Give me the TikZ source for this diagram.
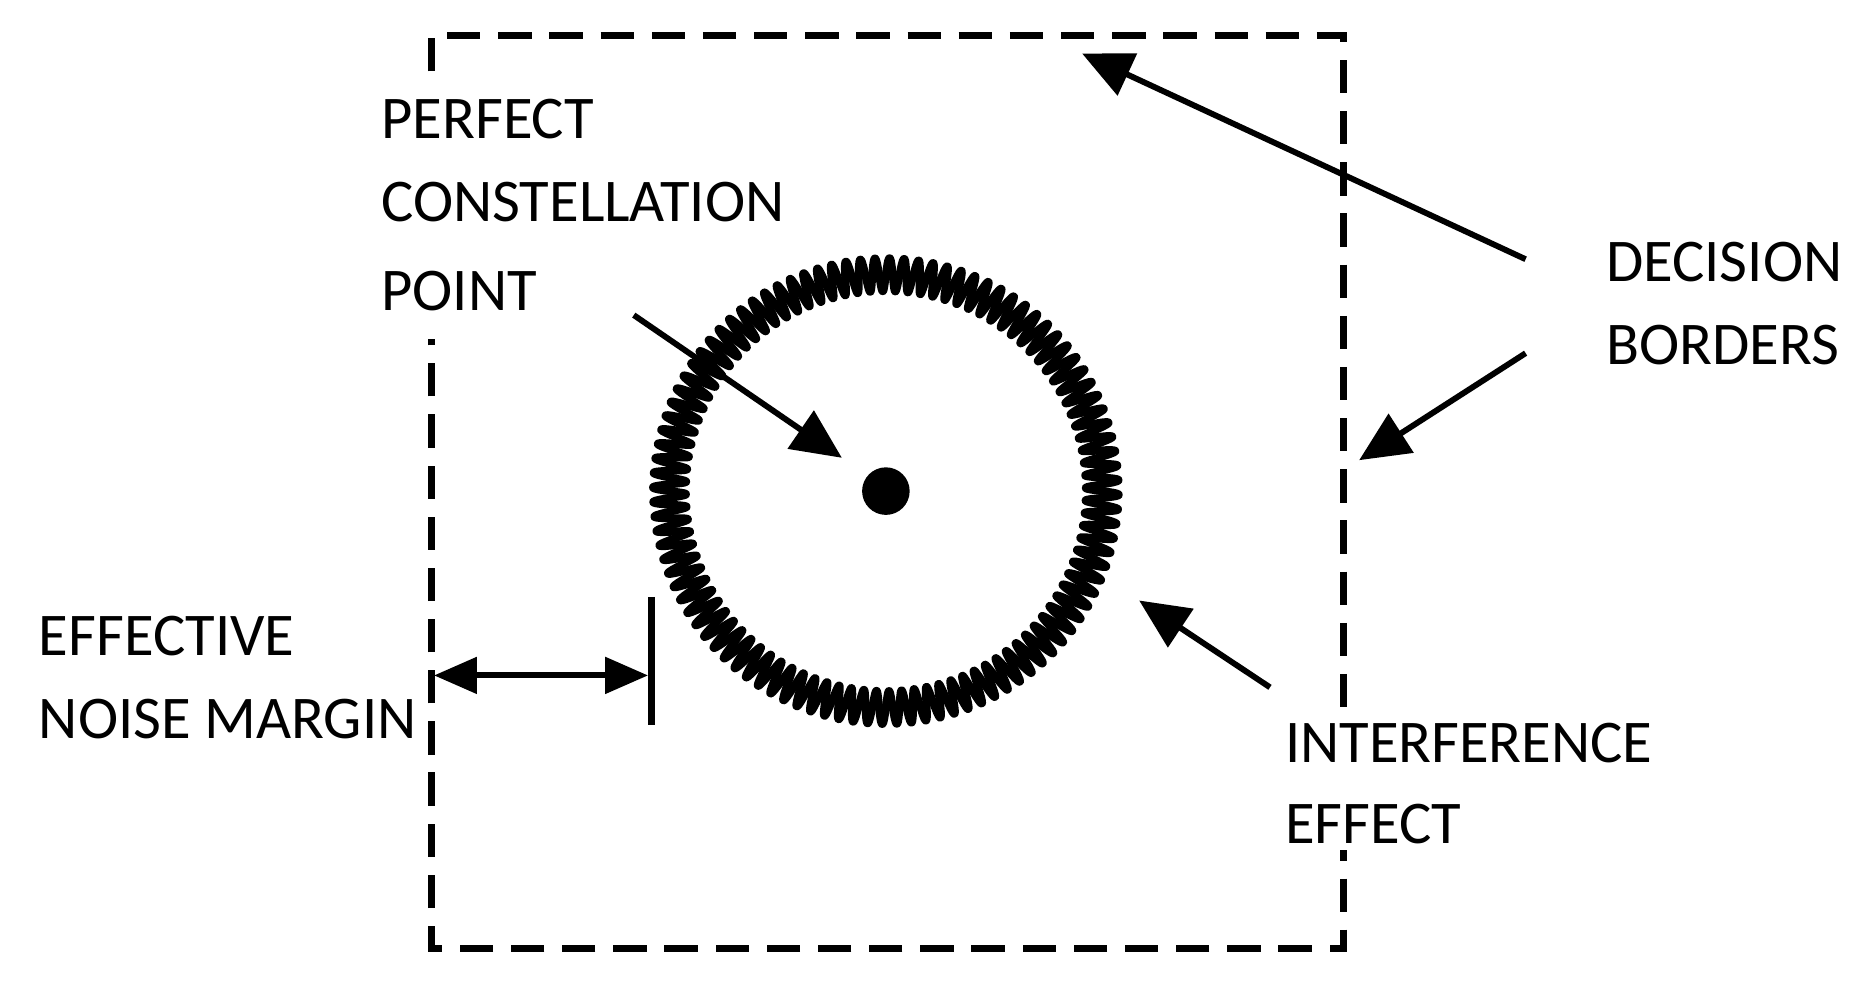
\documentclass[tikz,border=0pt]{standalone}
\usepackage{fontspec}
\setmainfont{Carlito}
\usetikzlibrary{arrows.meta}
\begin{document}
\begin{tikzpicture}[x=0.01cm,y=-0.01cm,
  border/.style={line width=1.7pt,dash pattern=on 0.28cm off 0.15cm},
  arr/.style={line width=1.4pt,-{Triangle[length=0.42cm,width=0.38cm]}},
  lbl/.style={anchor=west,font=\fontsize{14.5}{16}\selectfont,inner sep=0pt}]
\useasboundingbox (0,0) rectangle (1560,833);
\draw[border] (363,60) -- (363,30) -- (1130,30) -- (1130,798) -- (363,798) -- (363,285);
\foreach \k in {0,...,99}
  \draw[line width=1.9pt,line cap=round,line join=round] plot[domain=0:3.6,samples=19,variable=\t]
  ({745+(182+14*sin(100*\t))*cos(3.6*\k+\t)},{413+(182+14*sin(100*\t))*sin(3.6*\k+\t)});
\fill (745,413) circle (20);
\coordinate (p1) at (533,265); \coordinate (p2) at (708,385);
\coordinate (d1) at (1283,218); \coordinate (d2) at (910,45);
\coordinate (d3) at (1283,297); \coordinate (d4) at (1143,387);
\coordinate (i1) at (1068,578); \coordinate (i2) at (958,505);
\coordinate (n1) at (365,568); \coordinate (n2) at (545,568);
\coordinate (b1) at (548,502); \coordinate (b2) at (548,610);
\draw[arr] (p1) -- (p2);
\draw[arr] (d1) -- (d2);
\draw[arr] (d3) -- (d4);
\draw[arr] (i1) -- (i2);
\draw[line width=1.4pt,{Triangle[length=0.36cm,width=0.3cm]}-{Triangle[length=0.36cm,width=0.3cm]}] (n1) -- (n2);
\draw[line width=1.8pt] (b1) -- (b2);
\node[lbl] (t1) at (320,100) {PERFECT};
\node[lbl] (t2) at (320,170) {CONSTELLATION};
\node[lbl] (t3) at (320,245) {POINT};
\node[lbl] (t4) at (1350,220) {DECISION};
\node[lbl] (t5) at (1350,290) {BORDERS};
\node[lbl] (t6) at (32,535) {EFFECTIVE};
\node[lbl] (t7) at (32,605) {NOISE MARGIN};
\fill[white] (1115,595) rectangle (1145,715);
\node[lbl] (t8) at (1080,625) {INTERFERENCE};
\node[lbl] (t9) at (1080,693) {EFFECT};
\end{tikzpicture}
\end{document}
